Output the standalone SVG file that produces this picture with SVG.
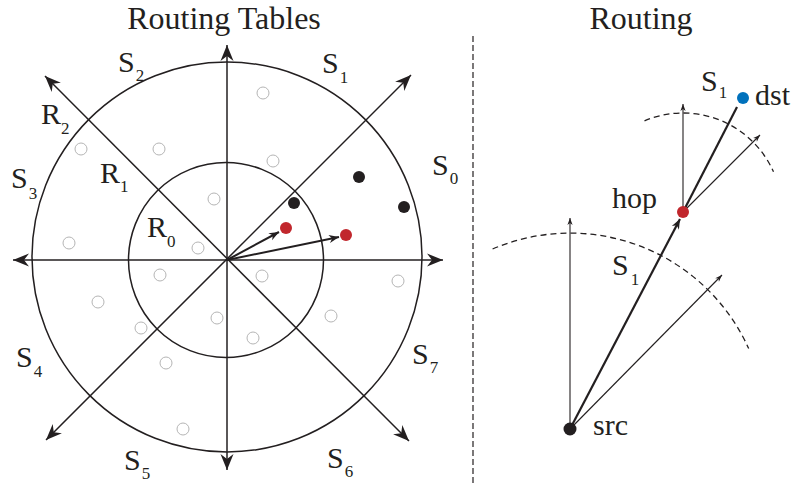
<svg xmlns="http://www.w3.org/2000/svg" width="793" height="486" viewBox="0 0 793 486">
<defs>
<style>
text{font-family:"Liberation Serif","Times New Roman",serif;fill:#231f20}
.title{font-size:32px;text-anchor:middle}
.lbl{font-size:30px}
.sub{font-size:17px}
.ax{stroke:#231f20;stroke-width:1.5;fill:none}
.circ{stroke:#231f20;stroke-width:1.5;fill:none}
.gray{stroke:#b5b5b5;stroke-width:1;fill:#fff}
.blk{fill:#231f20}
.red{fill:#c1272d}
.blue{fill:#0071bc}
.thin{stroke:#231f20;stroke-width:1.1;fill:none}
.thick{stroke:#231f20;stroke-width:2.2;fill:none}
.dash{stroke:#231f20;stroke-width:1.3;fill:none;stroke-dasharray:6 4}
</style>
<marker id="big" viewBox="-17 -8 18 16" refX="0" refY="0" markerWidth="18" markerHeight="16" markerUnits="userSpaceOnUse" orient="auto-start-reverse">
<path d="M0,0 L-16,-6.5 L-11,0 L-16,6.5 Z" fill="#231f20"/>
</marker>
<marker id="med" viewBox="-11 -5 12 10" refX="0" refY="0" markerWidth="12" markerHeight="10" markerUnits="userSpaceOnUse" orient="auto">
<path d="M0,0 L-10,-4 L-7,0 L-10,4 Z" fill="#231f20"/>
</marker>
<marker id="small" viewBox="-8 -4 9 8" refX="0" refY="0" markerWidth="9" markerHeight="8" markerUnits="userSpaceOnUse" orient="auto">
<path d="M0,0 L-7,-2.6 L-5,0 L-7,2.6 Z" fill="#231f20"/>
</marker>
</defs>

<text class="title" x="224" y="29">Routing Tables</text>
<text class="title" x="641" y="29">Routing</text>

<line x1="473" y1="36" x2="473" y2="486" stroke="#231f20" stroke-width="1.2" stroke-dasharray="6 3"/>

<g id="rings">
<circle class="circ" cx="227" cy="257" r="195"/>
<circle class="circ" cx="226" cy="260" r="97.5"/>
</g>

<g id="connectors">
<line class="ax" x1="227" y1="470" x2="227" y2="45" marker-start="url(#big)" marker-end="url(#big)"/>
<line class="ax" x1="13" y1="260" x2="443" y2="260" marker-start="url(#big)" marker-end="url(#big)"/>
<line class="ax" x1="45" y1="76" x2="409" y2="441" marker-start="url(#big)" marker-end="url(#big)"/>
<line class="ax" x1="411" y1="75" x2="46" y2="440" marker-start="url(#big)" marker-end="url(#big)"/>
<line stroke="#231f20" stroke-width="2" x1="227" y1="260" x2="279" y2="232" marker-end="url(#med)"/>
<line stroke="#231f20" stroke-width="2" x1="227" y1="260" x2="339" y2="237" marker-end="url(#med)"/>

<path class="dash" d="M492.6,249 A196,196 0 0 1 748.7,348.6"/>
<path class="dash" d="M644.5,120.8 A99,99 0 0 1 773.5,171.8"/>
<line class="thin" x1="570" y1="429" x2="570" y2="218" marker-end="url(#small)"/>
<line class="thin" x1="570" y1="429" x2="722" y2="275" marker-end="url(#small)"/>
<line class="thick" x1="570" y1="429" x2="680" y2="219" marker-end="url(#med)"/>
<line class="thin" x1="683" y1="212" x2="683" y2="104" marker-end="url(#small)"/>
<line class="thin" x1="683" y1="212" x2="760" y2="135" marker-end="url(#small)"/>
<line class="thick" x1="683" y1="212" x2="737" y2="107"/>
</g>

<g id="table-nodes">
<circle class="gray" cx="263" cy="93" r="6"/>
<circle class="gray" cx="81" cy="149" r="6"/>
<circle class="gray" cx="159" cy="149" r="6"/>
<circle class="gray" cx="273" cy="161" r="6"/>
<circle class="gray" cx="214" cy="199" r="6"/>
<circle class="gray" cx="69" cy="243" r="6"/>
<circle class="gray" cx="198" cy="248" r="6"/>
<circle class="gray" cx="160" cy="275" r="6"/>
<circle class="gray" cx="262" cy="276" r="6"/>
<circle class="gray" cx="398" cy="281" r="6"/>
<circle class="gray" cx="98" cy="302" r="6"/>
<circle class="gray" cx="217" cy="318" r="6"/>
<circle class="gray" cx="331" cy="316" r="6"/>
<circle class="gray" cx="141" cy="328" r="6"/>
<circle class="gray" cx="253" cy="338" r="6"/>
<circle class="gray" cx="166" cy="363" r="6"/>
<circle class="gray" cx="183" cy="429" r="6"/>
<circle class="blk" cx="294" cy="203" r="6"/>
<circle class="blk" cx="359" cy="177" r="6"/>
<circle class="blk" cx="404" cy="207" r="6"/>
<circle class="red" cx="286" cy="228" r="6"/>
<circle class="red" cx="346" cy="235" r="6"/>
</g>

<g id="labels-left">
<text class="lbl" x="118" y="72">S<tspan class="sub" dx="1" dy="9">2</tspan></text>
<text class="lbl" x="322" y="73">S<tspan class="sub" dx="1" dy="10">1</tspan></text>
<text class="lbl" x="432" y="175">S<tspan class="sub" dx="1" dy="9">0</tspan></text>
<text class="lbl" x="11" y="188">S<tspan class="sub" dx="1" dy="11">3</tspan></text>
<text class="lbl" x="41" y="124">R<tspan class="sub" dx="0" dy="10">2</tspan></text>
<text class="lbl" x="100" y="183">R<tspan class="sub" dx="0" dy="9">1</tspan></text>
<text class="lbl" x="147" y="237">R<tspan class="sub" dx="0" dy="10">0</tspan></text>
<text class="lbl" x="16" y="367">S<tspan class="sub" dx="1" dy="10">4</tspan></text>
<text class="lbl" x="124" y="470">S<tspan class="sub" dx="1" dy="9">5</tspan></text>
<text class="lbl" x="327" y="468">S<tspan class="sub" dx="1" dy="9">6</tspan></text>
<text class="lbl" x="412" y="364">S<tspan class="sub" dx="1" dy="9">7</tspan></text>
</g>

<g id="src">
<circle class="blk" cx="570" cy="429" r="6.5"/>
<text class="lbl" x="593" y="435">src</text>
</g>
<g id="hop">
<circle class="red" cx="683" cy="212" r="6"/>
<text class="lbl" x="612" y="208">hop</text>
</g>
<g id="dst">
<circle class="blue" cx="743" cy="98" r="6"/>
<text class="lbl" x="755" y="105">dst</text>
</g>
<g id="route-labels">
<text class="lbl" x="701" y="91">S<tspan class="sub" dx="1" dy="7">1</tspan></text>
<text class="lbl" x="612" y="275">S<tspan class="sub" dx="2" dy="10">1</tspan></text>
</g>
</svg>
